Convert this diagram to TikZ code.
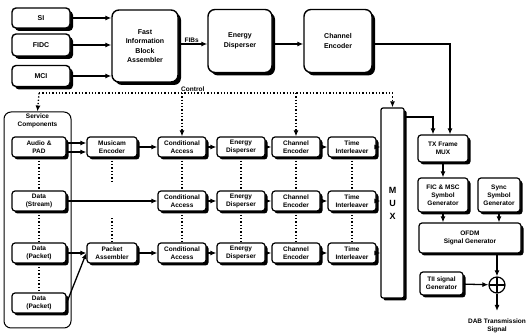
\documentclass[tikz,border=0pt]{standalone}
\usepackage{fontspec}
\setmainfont{Liberation Sans}
\usetikzlibrary{arrows.meta, shadows, positioning}
\tikzset{
  % blocco grande con ombra
  bigbox/.style={draw, line width=1.4pt, rounded corners=7pt, fill=white, align=center,
    inner sep=1pt, font=\fontsize{7}{9.5}\selectfont\bfseries,
    drop shadow={shadow xshift=3pt, shadow yshift=-3pt, fill=black, opacity=1}},
  % blocco piccolo di una catena
  smallbox/.style={draw, line width=1.2pt, rounded corners=3pt, fill=white, align=center,
    inner sep=0.5pt, minimum height=20pt, minimum width=48pt,
    font=\fontsize{6.5}{8}\selectfont\bfseries,
    drop shadow={shadow xshift=2.5pt, shadow yshift=-2.5pt, fill=black, opacity=1}},
  % contenitore delle componenti
  groupbox/.style={draw, line width=1pt, rounded corners=7pt},
  % sommatore
  sumnode/.style={circle, draw, line width=1.2pt, minimum size=16pt, inner sep=0pt,
    path picture={\draw[line width=1.2pt] (path picture bounding box.north) -- (path picture bounding box.south)
      (path picture bounding box.west) -- (path picture bounding box.east);}},
  % collegamenti
  arr/.style={-{Latex[length=6pt, width=5pt]}, line width=1.3pt},
  ctrl/.style={dotted, line width=1.3pt},
  ctrlarr/.style={ctrl, -{Latex[length=6pt, width=5pt]}},
  lbl/.style={font=\fontsize{6.5}{8}\selectfont\bfseries, align=center, inner sep=1pt},
}
\begin{document}
\begin{tikzpicture}[x=1pt, y=-1pt]
  \useasboundingbox (0,0) rectangle (527,336);
  % ingressi FIC
  \node[bigbox, rounded corners=4pt, minimum width=58pt, minimum height=20pt] (si) at (41,18) {SI};
  \node[bigbox, rounded corners=4pt, minimum width=58pt, minimum height=22pt] (fidc) at (41,45) {FIDC};
  \node[bigbox, rounded corners=4pt, minimum width=58pt, minimum height=21pt] (mci) at (41,76) {MCI};
  % catena FIC
  \node[bigbox, minimum width=66pt, minimum height=72pt] (fib) at (145,46) {Fast\\Information\\Block\\Assembler};
  \node[bigbox, minimum width=64pt, minimum height=63pt] (ed0) at (240,41) {Energy\\Disperser};
  \node[bigbox, minimum width=68pt, minimum height=63pt] (ce0) at (338,41) {Channel\\Encoder};
  \coordinate (fibrow) at (0,44);
  \draw[arr] (si.east) -- (si.east -| fib.west);
  \draw[arr] (fidc.east) -- (fidc.east -| fib.west);
  \draw[arr] (mci.east) -- (mci.east -| fib.west);
  \draw[arr] (fib.east |- fibrow) -- node[lbl, above, pos=0.45] {FIBs} (ed0.west |- fibrow);
  \draw[arr] (ed0.east |- fibrow) -- (ce0.west |- fibrow);
  % componenti di servizio
  \node[groupbox, minimum width=67pt, minimum height=216pt] (sc) at (37.5,220) {};
  \node[lbl, below=1pt of sc.north] (sctitle) {Service\\Components};
  \node[smallbox, minimum width=54pt] (ap) at (39,147) {Audio \&\\PAD};
  \node[smallbox, minimum width=54pt] (ds) at (39,201) {Data\\(Stream)};
  \node[smallbox, minimum width=54pt] (dp1) at (39,253) {Data\\(Packet)};
  \node[smallbox, minimum width=54pt] (dp2) at (39,303) {Data\\(Packet)};
  % prima riga
  \node[smallbox, minimum width=50pt] (mus) at (112,147) {Musicam\\Encoder};
  \node[smallbox] (ca1) at (182,147) {Conditional\\Access};
  \node[smallbox] (ed1) at (241,147) {Energy\\Disperser};
  \node[smallbox] (ce1) at (296,147) {Channel\\Encoder};
  \node[smallbox] (ti1) at (352,147) {Time\\Interleaver};
  % seconda riga
  \node[smallbox] (ca2) at (182,201) {Conditional\\Access};
  \node[smallbox] (ed2) at (241,201) {Energy\\Disperser};
  \node[smallbox] (ce2) at (296,201) {Channel\\Encoder};
  \node[smallbox] (ti2) at (352,201) {Time\\Interleaver};
  % terza riga
  \node[smallbox, minimum width=50pt] (pa) at (112,253) {Packet\\Assembler};
  \node[smallbox] (ca3) at (182,253) {Conditional\\Access};
  \node[smallbox] (ed3) at (241,253) {Energy\\Disperser};
  \node[smallbox] (ce3) at (296,253) {Channel\\Encoder};
  \node[smallbox] (ti3) at (352,253) {Time\\Interleaver};
  % multiplexer
  \node[smallbox, rounded corners=2pt, minimum width=23pt, minimum height=190pt,
    font=\fontsize{9}{13}\selectfont\bfseries] (mux) at (392.5,203) {M\\U\\X};
  % catena di trasmissione
  \node[smallbox, minimum width=50pt, minimum height=27pt] (tx) at (443,148.5) {TX Frame\\MUX};
  \node[smallbox, minimum width=50pt, minimum height=34pt] (fic) at (443,195) {FIC \& MSC\\Symbol\\Generator};
  \node[smallbox, minimum width=42pt, minimum height=34pt] (sync) at (499,195) {Sync\\Symbol\\Generator};
  \node[smallbox, minimum width=102pt, minimum height=30pt] (ofdm) at (470,238) {OFDM\\Signal Generator};
  \node[smallbox, minimum width=43pt, minimum height=23pt] (tii) at (441.5,283.5) {TII signal\\Generator};
  \node[sumnode] (sum) at (497,285) {};
  \coordinate (out) at (497,311);
  \node[lbl] (dab) at (497,326) {DAB Transmission\\Signal};
  % collegamenti delle righe
  \coordinate (aptop) at (0,143);
  \coordinate (apbot) at (0,152);
  \draw[arr] (ap.east |- aptop) -- (mus.west |- aptop);
  \draw[arr] (ap.east |- apbot) -- (mus.west |- apbot);
  \draw[arr] (mus) -- (ca1);
  \draw[arr] (ds) -- (ca2);
  \draw[arr] (dp1) -- (pa.west);
  \draw[arr] (dp2.east) -- (pa.west);
  \draw[arr] (pa) -- (ca3);
  \draw[arr] (ca1) -- (ed1);
  \draw[arr] (ed1) -- (ce1);
  \draw[arr] (ce1) -- (ti1);
  \draw[arr] (ti1) -- (ti1 -| mux.west);
  \draw[arr] (ca2) -- (ed2);
  \draw[arr] (ed2) -- (ce2);
  \draw[arr] (ce2) -- (ti2);
  \draw[arr] (ti2) -- (ti2 -| mux.west);
  \draw[arr] (ca3) -- (ed3);
  \draw[arr] (ed3) -- (ce3);
  \draw[arr] (ce3) -- (ti3);
  \draw[arr] (ti3) -- (ti3 -| mux.west);
  % collegamenti verticali tratteggiati
  \draw[ctrl] (ap) -- (ds);
  \draw[ctrl] (ds) -- (dp1);
  \draw[ctrl] (dp1) -- (dp2);
  \draw[ctrl] (mus.south) -- ++(0,24);
  \draw[ctrl] (pa.north) -- ++(0,-26);
  \draw[ctrl] (ca1) -- (ca2);
  \draw[ctrl] (ca2) -- (ca3);
  \draw[ctrl] (ed1) -- (ed2);
  \draw[ctrl] (ed2) -- (ed3);
  \draw[ctrl] (ce1) -- (ce2);
  \draw[ctrl] (ce2) -- (ce3);
  \draw[ctrl] (ti1) -- (ti2);
  \draw[ctrl] (ti2) -- (ti3);
  % linea di controllo
  \coordinate (cl) at (39,93);
  \coordinate (cr) at (392.5,93);
  \draw[ctrl] (cl) -- node[lbl, above, pos=0.435] {Control} (cr);
  \draw[ctrlarr] (cl) -- (sc.north);
  \draw[ctrlarr] (ca1 |- cl) -- (ca1.north);
  \draw[ctrlarr] (ce1 |- cl) -- (ce1.north);
  \draw[ctrlarr] (cr) -- (mux.north);
  % uscite verso la trama
  \coordinate (txin1) at (433,0);
  \coordinate (txin2) at (450,0);
  \coordinate (muxout) at (0,117);
  \draw[arr] (ce0.east |- fibrow) -| (txin2 |- tx.north);
  \draw[arr] (mux.east |- muxout) -| (txin1 |- tx.north);
  \draw[arr] (tx) -- (fic);
  \draw[arr] (fic) -- (fic |- ofdm.north);
  \draw[arr] (sync) -- (sync |- ofdm.north);
  \draw[arr] (ofdm.south -| sum) -- (sum);
  \draw[arr] (tii) -- (sum);
  \draw[arr] (sum) -- (out);
\end{tikzpicture}
\end{document}
